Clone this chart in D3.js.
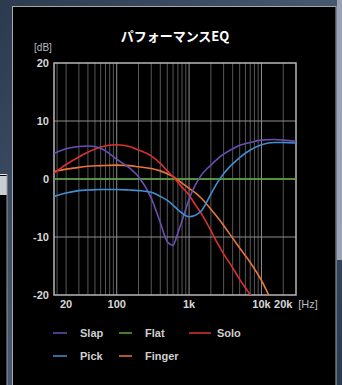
<!DOCTYPE html>
<meta charset="utf-8">
<title>パフォーマンスEQ</title>
<script src="https://d3js.org/d3.v7.min.js"></script>
<style>
  body { margin: 0; background: #34445a; overflow: hidden; }
  svg { display: block; }
</style>
<body>
<div id="chart"></div>
<script>
// frequencies (Hz) shared by every curve
var freqs = [13.6, 20, 30, 40, 60, 100, 150, 200, 300, 400, 500, 600, 700, 800, 1000, 1200, 1500, 2000, 2500, 3000, 4000, 5000, 7000, 10000, 15000, 20000, 30000];

// gain (dB) for each preset
var slap   = [4.4, 5.2, 5.6, 5.7, 5.3, 3.4, 1.9, 0.4, -3.3, -7.5, -10.8, -11.4, -9.3, -7.2, -3.5, -1.2, 0.8, 2.4, 3.5, 4.3, 5.2, 5.8, 6.3, 6.7, 6.8, 6.7, 6.5];
var flat   = [0, 0, 0, 0, 0, 0, 0, 0, 0, 0, 0, 0, 0, 0, 0, 0, 0, 0, 0, 0, 0, 0, 0, 0, 0, 0, 0];
var solo   = [1.0, 2.5, 3.8, 4.6, 5.5, 5.9, 5.6, 5.0, 4.0, 2.7, 1.4, 0.4, -0.6, -1.4, -2.8, -4.3, -6.1, -8.9, -11.2, -12.9, -15.3, -17.3, -20.0, -23, -27, -30, -34];
var pick   = [-3.0, -2.4, -2.0, -1.9, -1.8, -1.8, -1.9, -2.0, -2.3, -3.0, -3.7, -4.5, -5.3, -5.9, -6.5, -6.3, -5.4, -2.6, -0.5, 0.9, 2.6, 3.7, 5.0, 5.9, 6.3, 6.3, 6.2];
var finger = [1.3, 1.7, 2.0, 2.2, 2.3, 2.4, 2.3, 2.1, 1.8, 1.4, 0.9, 0.4, -0.2, -0.7, -1.6, -2.3, -3.4, -5.2, -6.7, -8.0, -10.2, -11.9, -14.4, -17.5, -22, -25, -30];

var seriesNames = ["Slap", "Flat", "Solo", "Pick", "Finger"];
var seriesColors = ["#6a4fb4", "#5aa83c", "#dc3030", "#3f8fd2", "#e8763a"];
var seriesValues = [slap, flat, solo, pick, finger];

var minorFreqs = [15, 20, 30, 40, 50, 60, 70, 80, 90, 200, 300, 400, 500, 600, 700, 800, 900,
                  2000, 3000, 4000, 5000, 6000, 7000, 8000, 9000, 20000];
var majorFreqs = [100, 1000, 10000];
var xTicks = [20, 100, 1000, 10000, 20000];
var xTickLabels = ["20", "100", "1k", "10k", "20k"];
var yTicks = [20, 10, 0, -10, -20];

var W = 342, H = 385;
var plot = {left: 54, right: 296, top: 63, bottom: 295};

var svg = d3.select("#chart").append("svg")
    .attr("width", W)
    .attr("height", H);

// background (stone texture approximated)
var defs = svg.append("defs");
var bg = defs.append("linearGradient").attr("id", "bg")
    .attr("x1", 0).attr("y1", 0).attr("x2", 1).attr("y2", 1);
bg.append("stop").attr("offset", "0%").attr("stop-color", "#2c3a4e");
bg.append("stop").attr("offset", "50%").attr("stop-color", "#475870");
bg.append("stop").attr("offset", "100%").attr("stop-color", "#2a3850");
svg.append("rect").attr("width", W).attr("height", H).attr("fill", "url(#bg)");
svg.append("rect").attr("x", 337).attr("y", 0).attr("width", 5).attr("height", 260).attr("fill", "#9aa3b6");

// piece of the neighbouring panel on the left
svg.append("rect").attr("x", 0).attr("y", 174).attr("width", 7).attr("height", 211).attr("fill", "#000");
svg.append("rect").attr("x", 0).attr("y", 176).attr("width", 7).attr("height", 19).attr("fill", "#c9ccd0");
svg.append("line").attr("x1", 0).attr("x2", 7).attr("y1", 174.5).attr("y2", 174.5).attr("stroke", "#e8e8e8");
svg.append("line").attr("x1", 7).attr("x2", 7).attr("y1", 174).attr("y2", H).attr("stroke", "#9a9a9a");

// main black panel
svg.append("rect")
    .attr("x", 12.5).attr("y", 6.5)
    .attr("width", 323.5).attr("height", 400)
    .attr("fill", "#000")
    .attr("stroke", "#a8a8a8")
    .attr("stroke-width", 1);

var x = d3.scaleLog()
    .domain([13.6, 30000])
    .range([plot.left, plot.right]);

var y = d3.scaleLinear()
    .domain([-20, 20])
    .range([plot.bottom, plot.top]);

var fontTxt = "'Liberation Sans Narrow', 'Liberation Sans', Arial, sans-serif";

// title
svg.append("text")
    .attr("x", 175)
    .attr("y", 41)
    .attr("text-anchor", "middle")
    .attr("font-family", "'Noto Sans CJK JP', sans-serif")
    .attr("font-weight", "bold")
    .attr("font-size", "13px")
    .attr("fill", "#fff")
    .text("パフォーマンスEQ");

// grid
var grid = svg.append("g");
grid.selectAll("line.minor")
  .data(minorFreqs)
  .join("line")
    .attr("class", "minor")
    .attr("x1", d => x(d)).attr("x2", d => x(d))
    .attr("y1", plot.top).attr("y2", plot.bottom)
    .attr("stroke", "#575757")
    .attr("stroke-width", 1);

grid.selectAll("line.major")
  .data(majorFreqs)
  .join("line")
    .attr("class", "major")
    .attr("x1", d => x(d)).attr("x2", d => x(d))
    .attr("y1", plot.top).attr("y2", plot.bottom)
    .attr("stroke", "#8f8f8f")
    .attr("stroke-width", 1);

grid.selectAll("line.h")
  .data([10, 0, -10])
  .join("line")
    .attr("class", "h")
    .attr("x1", plot.left).attr("x2", plot.right)
    .attr("y1", d => y(d)).attr("y2", d => y(d))
    .attr("stroke", "#8f8f8f")
    .attr("stroke-width", 1);

// frame
svg.append("rect")
    .attr("x", plot.left).attr("y", plot.top)
    .attr("width", plot.right - plot.left)
    .attr("height", plot.bottom - plot.top)
    .attr("fill", "none")
    .attr("stroke", "#b8b8b8")
    .attr("stroke-width", 1.5);

// y labels
svg.append("text")
    .attr("x", 43).attr("y", 51)
    .attr("text-anchor", "middle")
    .attr("font-family", fontTxt)
    .attr("font-size", "10px")
    .attr("fill", "#bdbdbd")
    .text("[dB]");

svg.append("g").selectAll("text")
  .data(yTicks)
  .join("text")
    .attr("x", 49)
    .attr("y", d => y(d))
    .attr("dy", "0.35em")
    .attr("text-anchor", "end")
    .attr("font-family", fontTxt)
    .attr("font-weight", "bold")
    .attr("font-size", "11px")
    .attr("fill", "#d8d8d8")
    .text(d => d);

// x labels
svg.append("g").selectAll("text")
  .data(xTicks)
  .join("text")
    .attr("x", (d, i) => x(d))
    .attr("y", 308)
    .attr("text-anchor", "middle")
    .attr("font-family", fontTxt)
    .attr("font-weight", "bold")
    .attr("font-size", "11px")
    .attr("fill", "#d8d8d8")
    .text((d, i) => xTickLabels[i]);

svg.append("text")
    .attr("x", 308).attr("y", 308)
    .attr("text-anchor", "middle")
    .attr("font-family", fontTxt)
    .attr("font-size", "11px")
    .attr("fill", "#bdbdbd")
    .text("[Hz]");

// curves
defs.append("clipPath").attr("id", "clip")
  .append("rect")
    .attr("x", plot.left).attr("y", plot.top)
    .attr("width", plot.right - plot.left)
    .attr("height", plot.bottom - plot.top);

var line = d3.line()
    .x(d => x(d[0]))
    .y(d => y(d[1]))
    .curve(d3.curveMonotoneX);

var drawOrder = [1, 4, 2, 0, 3];
svg.append("g")
    .attr("clip-path", "url(#clip)")
  .selectAll("path")
  .data(drawOrder)
  .join("path")
    .attr("d", i => line(freqs.map((f, k) => [f, seriesValues[i][k]])))
    .attr("fill", "none")
    .attr("stroke", i => seriesColors[i])
    .attr("stroke-width", 1.6);

// legend
var legendPos = [
  {x1: 53, x2: 67, tx: 80, y: 333},
  {x1: 119, x2: 132, tx: 145, y: 333},
  {x1: 189, x2: 211, tx: 217, y: 333},
  {x1: 53, x2: 67, tx: 80, y: 356},
  {x1: 119, x2: 132, tx: 145, y: 356}
];
var legend = svg.append("g");
legend.selectAll("line")
  .data(seriesNames)
  .join("line")
    .attr("x1", (d, i) => legendPos[i].x1)
    .attr("x2", (d, i) => legendPos[i].x2)
    .attr("y1", (d, i) => legendPos[i].y)
    .attr("y2", (d, i) => legendPos[i].y)
    .attr("stroke", (d, i) => seriesColors[i])
    .attr("stroke-width", 1.5);

legend.selectAll("text")
  .data(seriesNames)
  .join("text")
    .attr("x", (d, i) => legendPos[i].tx)
    .attr("y", (d, i) => legendPos[i].y)
    .attr("dy", "0.35em")
    .attr("font-family", fontTxt)
    .attr("font-weight", "bold")
    .attr("font-size", "11px")
    .attr("fill", "#cfcfcf")
    .text(d => d);
</script>
</body>
